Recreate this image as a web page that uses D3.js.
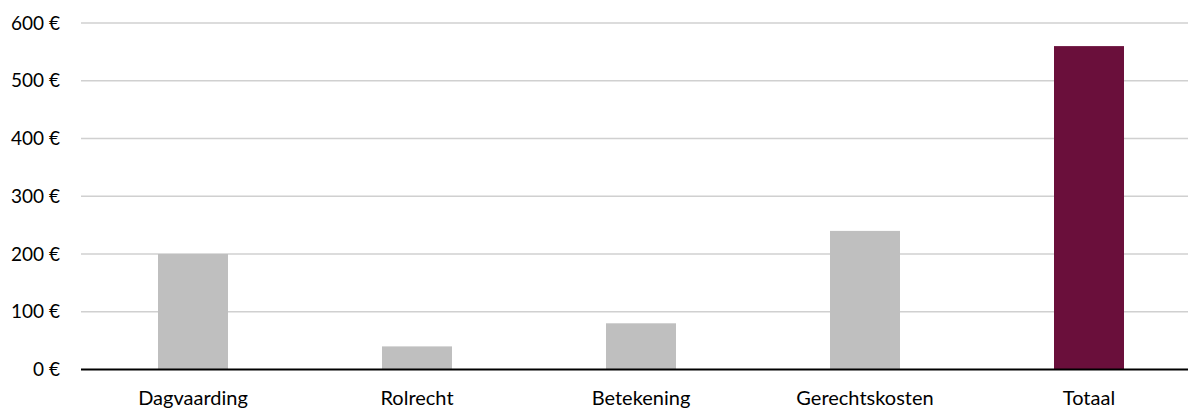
<!DOCTYPE html>
<html><head><meta charset="utf-8">
<script src="https://cdn.jsdelivr.net/npm/d3@7"></script>
<style>body{margin:0;background:#fff}svg{display:block}</style>
</head><body>
<script>
const categories = ["Dagvaarding","Rolrecht","Betekening","Gerechtskosten","Totaal"];
const values = [200, 40, 80, 240, 560];
const colors = ["#bfbfbf","#bfbfbf","#bfbfbf","#bfbfbf","#6a0f3b"];
const yTicks = [0,100,200,300,400,500,600];

const W = 1188, H = 408;
const svg = d3.select("body").append("svg").attr("width",W).attr("height",H);
const x = d3.scaleBand().domain(categories).range([81, 1201]).paddingInner(0.6875).paddingOuter(0.34375);
const y = d3.scaleLinear().domain([0,600]).range([369.5, 23]);
const font = "Lato, 'Open Sans', sans-serif";

svg.append("g").selectAll("line").data(yTicks.filter(d=>d>0)).join("line")
  .attr("x1",81).attr("x2",W).attr("y1",d=>y(d)).attr("y2",d=>y(d))
  .attr("stroke","#d0d0d0").attr("stroke-width",1.5);

svg.append("g").selectAll("rect").data(values).join("rect")
  .attr("x",(d,i)=>x(categories[i])).attr("width",x.bandwidth())
  .attr("y",d=>y(d)).attr("height",d=>y(0)-y(d))
  .attr("fill",(d,i)=>colors[i]);

svg.append("line").attr("x1",81).attr("x2",W).attr("y1",y(0)).attr("y2",y(0))
  .attr("stroke","#000").attr("stroke-width",2);

svg.append("g").selectAll("text").data(yTicks).join("text")
  .attr("x",60).attr("y",d=>y(d)+6.5).attr("text-anchor","end")
  .attr("font-family",font).attr("font-size",19).attr("fill","#000")
  .text(d=>d+" €");

svg.append("g").selectAll("text").data(categories).join("text")
  .attr("x",d=>x(d)+x.bandwidth()/2).attr("y",405).attr("text-anchor","middle")
  .attr("font-family",font).attr("font-size",20).attr("fill","#000")
  .text(d=>d);
</script>
</body></html>
